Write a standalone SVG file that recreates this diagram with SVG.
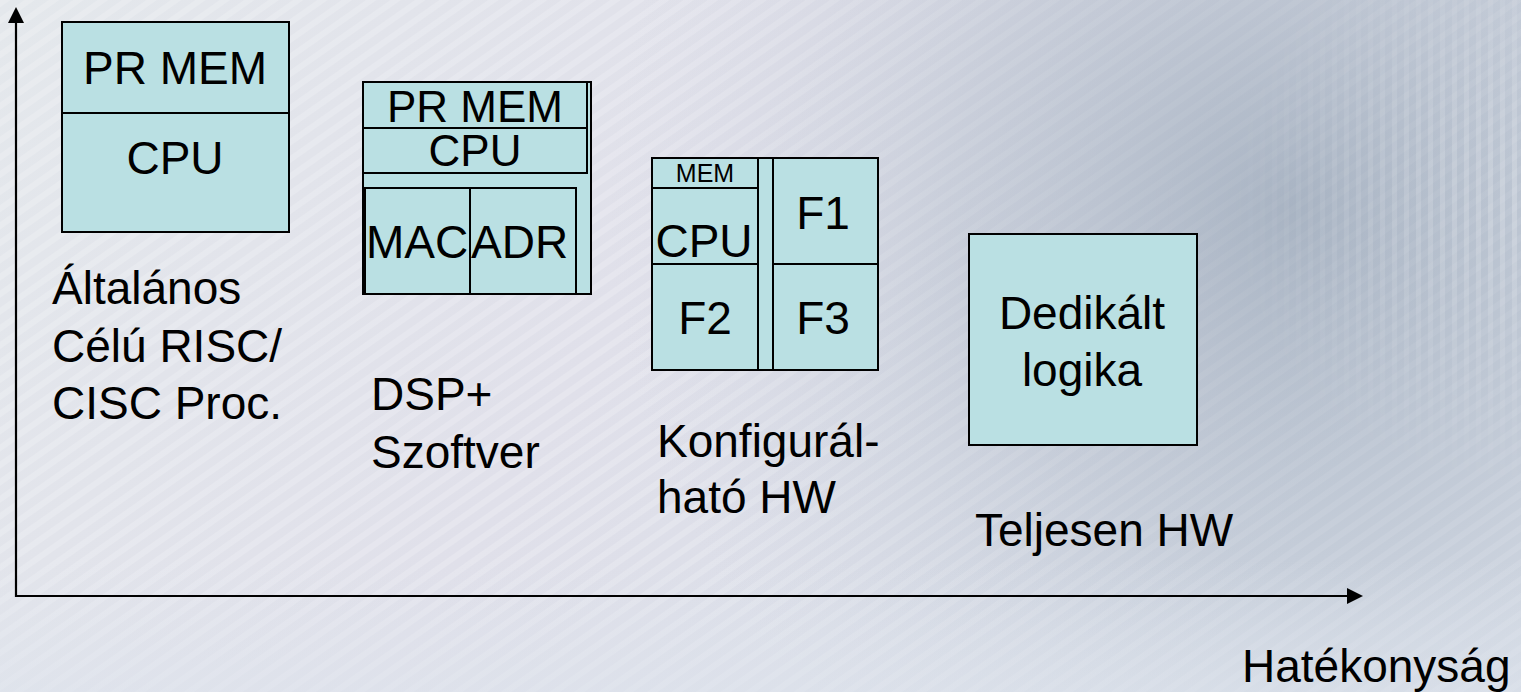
<svg xmlns="http://www.w3.org/2000/svg" width="1521" height="692" viewBox="0 0 1521 692">
  <defs>
    <style>
      .box { fill: #bae0e3; stroke: #000; stroke-width: 2; }
      .t { font-family: "Liberation Sans", Arial, sans-serif; font-size: 46px; fill: #000; }
      .c { text-anchor: middle; }
      .axis { stroke: #000; stroke-width: 2.2; fill: none; }
    </style>
    <linearGradient id="bg" x1="0" y1="0" x2="1" y2="0.3">
      <stop offset="0" stop-color="#e4e8ec"/>
      <stop offset="0.5" stop-color="#e0e0ea"/>
      <stop offset="1" stop-color="#d6dce6"/>
    </linearGradient>
    <radialGradient id="chipA" cx="0.85" cy="0.3" r="0.45" gradientUnits="objectBoundingBox" gradientTransform="translate(0.85 0.3) scale(1 2.2) translate(-0.85 -0.3)">
      <stop offset="0" stop-color="#8797aa" stop-opacity="0.6"/>
      <stop offset="0.5" stop-color="#a3afbf" stop-opacity="0.35"/>
      <stop offset="1" stop-color="#c8d0dc" stop-opacity="0"/>
    </radialGradient>
    <linearGradient id="bottom" x1="0" y1="0" x2="0" y2="1">
      <stop offset="0" stop-color="#dde3ec" stop-opacity="0"/>
      <stop offset="1" stop-color="#dde3ec" stop-opacity="0.6"/>
    </linearGradient>
    <pattern id="streaks" width="14" height="14" patternUnits="userSpaceOnUse" patternTransform="rotate(-35)">
      <rect width="14" height="6" fill="#ffffff" fill-opacity="0.18"/>
    </pattern>
    <pattern id="pins" width="12" height="12" patternUnits="userSpaceOnUse">
      <rect width="5" height="12" fill="#ffffff" fill-opacity="0.22"/>
    </pattern>
    <radialGradient id="pinfade" cx="1521" cy="200" r="300" gradientUnits="userSpaceOnUse">
      <stop offset="0" stop-color="#fff" stop-opacity="1"/>
      <stop offset="1" stop-color="#fff" stop-opacity="0"/>
    </radialGradient>
    <mask id="pinmask">
      <rect x="1150" y="0" width="371" height="560" fill="url(#pinfade)"/>
    </mask>
  </defs>

  <g id="background">
    <rect width="1521" height="692" fill="url(#bg)"/>
    <rect width="1521" height="692" fill="url(#streaks)"/>
    <rect width="1521" height="692" fill="url(#chipA)"/>
    <rect x="1150" y="0" width="371" height="560" fill="url(#pins)" mask="url(#pinmask)"/>
    <rect x="0" y="560" width="1521" height="132" fill="url(#bottom)"/>
  </g>

  <g id="connectors">
    <line class="axis" x1="16" y1="597" x2="16" y2="20"/>
    <polygon points="16,7 24,23 8,23" fill="#000"/>
    <line class="axis" x1="15" y1="596" x2="1350" y2="596"/>
    <polygon points="1363,596 1347,588 1347,604" fill="#000"/>
  </g>

  <g id="node-general">
    <rect class="box" x="62" y="22" width="227" height="210"/>
    <line x1="62" y1="113" x2="289" y2="113" stroke="#000" stroke-width="2"/>
    <text class="t c" x="175" y="84">PR MEM</text>
    <text class="t c" x="175" y="174">CPU</text>
  </g>

  <g id="node-dsp">
    <rect class="box" x="363" y="82" width="228" height="212"/>
    <rect class="box" x="363" y="82" width="224" height="46"/>
    <rect class="box" x="363" y="128" width="224" height="45"/>
    <rect class="box" x="365" y="188" width="105" height="106"/>
    <rect class="box" x="470" y="188" width="106" height="106"/>
    <text class="t c" x="475" y="122" style="font-size:44px">PR MEM</text>
    <text class="t c" x="475" y="166" style="font-size:44px">CPU</text>
    <text class="t" x="366" y="258">MAC</text>
    <text class="t" x="471" y="258">ADR</text>
  </g>

  <g id="node-config">
    <rect class="box" x="652" y="158" width="226" height="212"/>
    <rect class="box" x="652" y="158" width="106" height="30"/>
    <rect class="box" x="652" y="188" width="106" height="76"/>
    <rect class="box" x="652" y="264" width="106" height="106"/>
    <rect class="box" x="773" y="158" width="105" height="106"/>
    <rect class="box" x="773" y="264" width="105" height="106"/>
    <text class="t c" x="705" y="182" style="font-size:25px">MEM</text>
    <text class="t c" x="704" y="257">CPU</text>
    <text class="t c" x="823" y="229">F1</text>
    <text class="t c" x="705" y="334">F2</text>
    <text class="t c" x="823" y="334">F3</text>
  </g>

  <g id="node-dedicated">
    <rect class="box" x="969" y="234" width="228" height="211"/>
    <text class="t c" x="1082" y="329">Dedikált</text>
    <text class="t c" x="1082" y="386">logika</text>
  </g>

  <g id="labels">
    <text class="t" x="52" y="304">Általános</text>
    <text class="t" x="52" y="362">Célú RISC/</text>
    <text class="t" x="52" y="419">CISC Proc.</text>
    <text class="t" x="371" y="410">DSP+</text>
    <text class="t" x="371" y="468">Szoftver</text>
    <text class="t" x="657" y="457">Konfigurál-</text>
    <text class="t" x="657" y="513">ható HW</text>
    <text class="t" x="975" y="546">Teljesen HW</text>
    <text class="t" x="1242" y="682">Hatékonyság</text>
  </g>
</svg>
